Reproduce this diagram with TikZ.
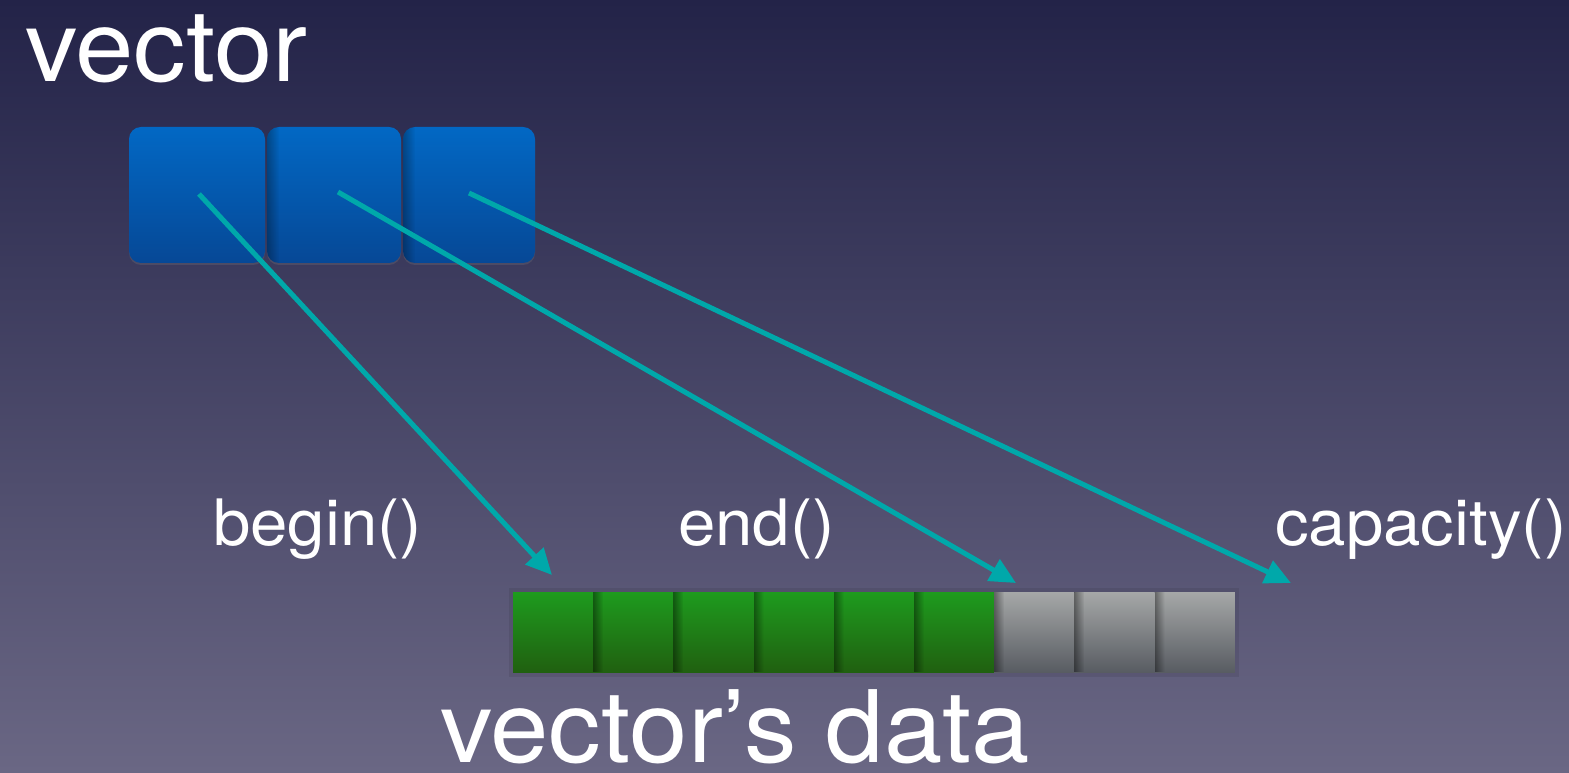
\documentclass[tikz,border=0pt]{standalone}
\usepackage{fontspec}
\setmainfont{TeX Gyre Heros}[FakeStretch=1.05]
\usetikzlibrary{arrows.meta,fadings,shadows}
\definecolor{bgtop}{RGB}{35,35,72}
\definecolor{bgbot}{RGB}{106,103,132}
\definecolor{teal1}{RGB}{0,168,170}
\definecolor{bluetop}{RGB}{2,104,196}
\definecolor{bluebot}{RGB}{6,72,150}
\definecolor{greentop}{RGB}{30,155,30}
\definecolor{greenbot}{RGB}{32,96,16}
\definecolor{greytop}{RGB}{166,168,168}
\definecolor{greybot}{RGB}{88,92,98}
\tikzfading[name=fadeoutright, left color=transparent!0, right color=transparent!100]
\begin{document}
\begin{tikzpicture}[x=1pt,y=1pt,
  bluebox/.style={rounded corners=12pt, top color=bluetop, bottom color=bluebot, minimum height=136pt, inner sep=0pt, outer sep=0pt, drop shadow={opacity=0.25,shadow xshift=0pt,shadow yshift=-2pt}},
  datacell/.style={minimum width=80.2pt, minimum height=80pt, inner sep=0pt, outer sep=0pt},
  greencell/.style={datacell, top color=greentop, bottom color=greenbot},
  greycell/.style={datacell, top color=greytop, bottom color=greybot},
  pointer/.style={draw=teal1, line width=5pt, -{Triangle[length=26pt,width=24pt]}},
  lbl/.style={text=white, anchor=base west, inner sep=0pt, font=\fontsize{64}{64}\selectfont},
  titletext/.style={text=white, anchor=base west, inner sep=0pt, font=\fontsize{100}{100}\selectfont},
  edgeshade/.style={fill=black, path fading=fadeoutright, fill opacity=0.4}
]
\shade[top color=bgtop, bottom color=bgbot] (0,0) rectangle (1569,772);
\useasboundingbox (0,0) rectangle (1569,772);

% vector object
\node[bluebox, minimum width=136pt] (b1) at (197,577) {};
\node[bluebox, minimum width=134pt] (b2) at (334,577) {};
\node[bluebox, minimum width=132pt] (b3) at (469,577) {};
\foreach \b in {b2,b3}{
  \begin{scope}
    \clip[rounded corners=12pt] (\b.south west) rectangle (\b.north east);
    \fill[edgeshade, fill opacity=0.3] (\b.south west) rectangle ([xshift=12pt]\b.north west);
  \end{scope}
}

% data cells
\fill[black, opacity=0.08] (509,95) rectangle (1239,184);
\foreach \i in {0,...,5}
  \node[greencell] (c\i) at (553.1+\i*80.2,140) {};
\foreach \i in {6,7,8}
  \node[greycell] (c\i) at (553.1+\i*80.2,140) {};
\foreach \i in {1,...,8}
  \fill[edgeshade] (c\i.south west) rectangle ([xshift=10pt]c\i.north west);

% pointers
\coordinate (s1) at (199,578);
\coordinate (s2) at (338,580);
\coordinate (s3) at (469,579);
\coordinate (t1) at (552,197);
\coordinate (t2) at (1016,189);
\coordinate (t3) at (1291,189);
\draw[pointer] (s1) -- (t1);
\draw[pointer] (s2) -- (t2);
\draw[pointer] (s3) -- (t3);

% texts
\node[titletext] (vt) at (25,690) {vector};
\node[lbl] (l1) at (213,227) {begin()};
\node[lbl] (l2) at (678,227) {end()};
\node[lbl] (l3) at (1275,227) {capacity()};
\node[titletext] (vd) at (440,10) {vector’s data};
\end{tikzpicture}
\end{document}
